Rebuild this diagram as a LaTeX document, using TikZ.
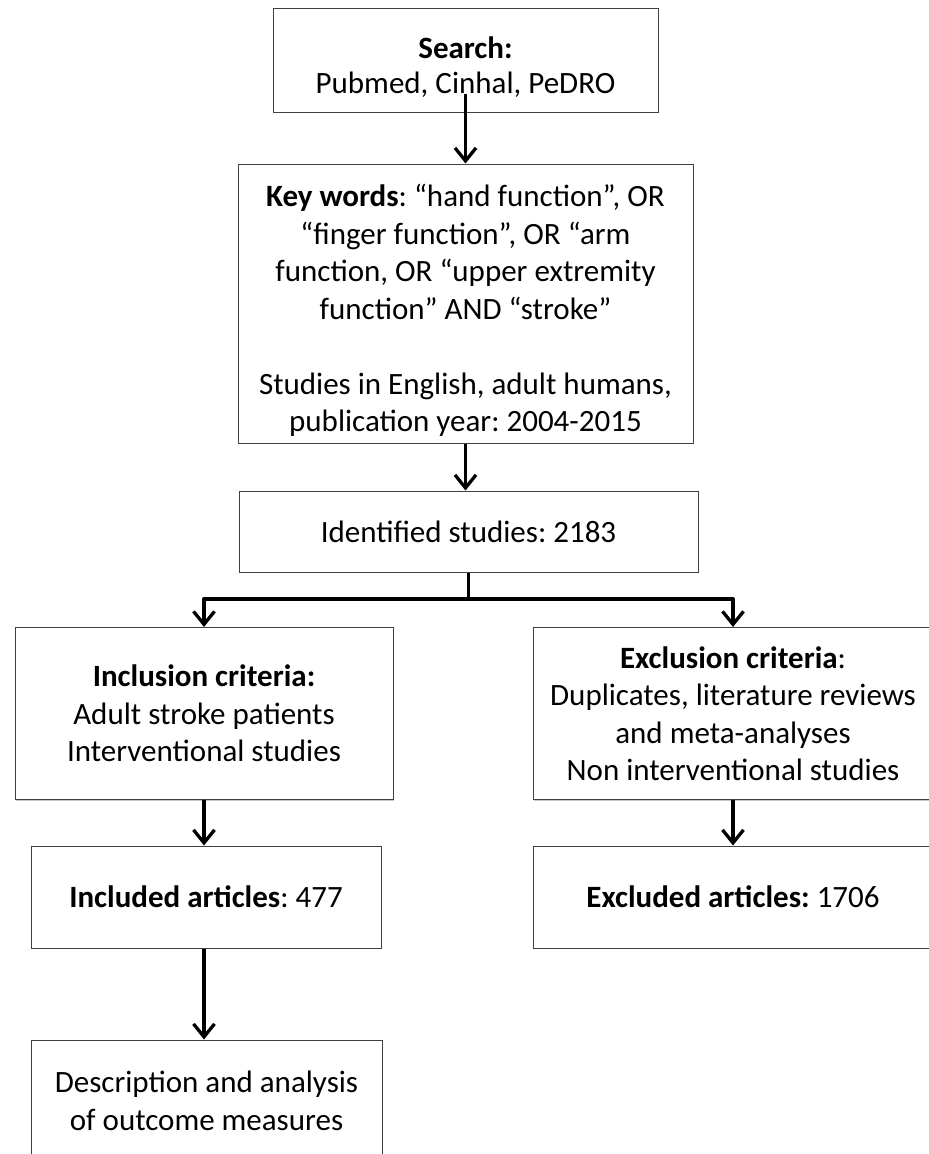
\documentclass[tikz,border=0pt]{standalone}
\usepackage{fontspec}
\setmainfont{Carlito}
\usetikzlibrary{arrows.meta,shadows}

\begin{document}
\frenchspacing
\begin{tikzpicture}[
    x=1pt, y=-1pt,
    stage/.style={draw=black!75, fill=white, line width=1pt, align=center,
        inner sep=0pt, font=\fontsize{31}{37.5}\selectfont,
        drop shadow={shadow xshift=0.8pt, shadow yshift=-1.4pt,
            fill=black!45, opacity=0.5}},
    wire/.style={draw=black, line width=3.3pt, line join=round},
    flow/.style={wire, -{Straight Barb[length=13pt,width=21pt,line width=3.3pt]}}
]
    \path[use as bounding box] (0,0) rectangle (929,1154);

    % The search steps, top column.
    \node[stage, minimum width=385pt, minimum height=104pt] (search)
        at (465.5,60) {\rule{0pt}{36pt}\textbf{Search:}\\[-3pt]Pubmed, Cinhal, PeDRO};
    \node[stage, minimum width=455pt, minimum height=279pt] (keywords)
        at (465.5,303.5) {\rule{0pt}{36pt}\textbf{Key words}: “hand function”, OR\\
        “finger function”, OR “arm\\function, OR “upper extremity\\
        function” AND “stroke”\\[37.5pt]Studies in English, adult humans,\\
        publication year: 2004-2015};
    \node[stage, minimum width=459pt, minimum height=81pt] (identified)
        at (468.5,531.5) {Identified studies: 2183};

    % The two branches.
    \node[stage, minimum width=378pt, minimum height=172pt] (inclusion)
        at (204,713.5) {\textbf{Inclusion criteria:}\\Adult stroke patients\\
        Interventional studies};
    \node[stage, minimum width=400pt, minimum height=172pt] (exclusion)
        at (733,713.5) {\textbf{Exclusion criteria}:\\Duplicates, literature reviews\\
        and meta-analyses\\Non interventional studies};
    \node[stage, minimum width=350pt, minimum height=102pt] (included)
        at (206,897) {\textbf{Included articles}: 477};
    \node[stage, minimum width=400pt, minimum height=102pt] (excluded)
        at (733,897) {\textbf{Excluded articles:} 1706};
    \node[stage, minimum width=351pt, minimum height=122pt] (outcome)
        at (206.5,1101) {Description and analysis\\of outcome measures};

    \coordinate (split) at (468.5,599);

    \draw[flow, shorten <=-19pt] (search.south) -- (keywords.north);
    \draw[flow] (keywords.south) -- (keywords.south |- identified.north);
    \draw[wire] (identified.south) -- (split);
    \draw[flow] (split) -| (inclusion.north);
    \draw[flow] (split) -| (exclusion.north);
    \draw[flow] (inclusion.south) -- (inclusion.south |- included.north);
    \draw[flow] (exclusion.south) -- (excluded.north);
    \draw[flow] (inclusion.south |- included.south)
        -- (inclusion.south |- outcome.north);
\end{tikzpicture}
\end{document}
